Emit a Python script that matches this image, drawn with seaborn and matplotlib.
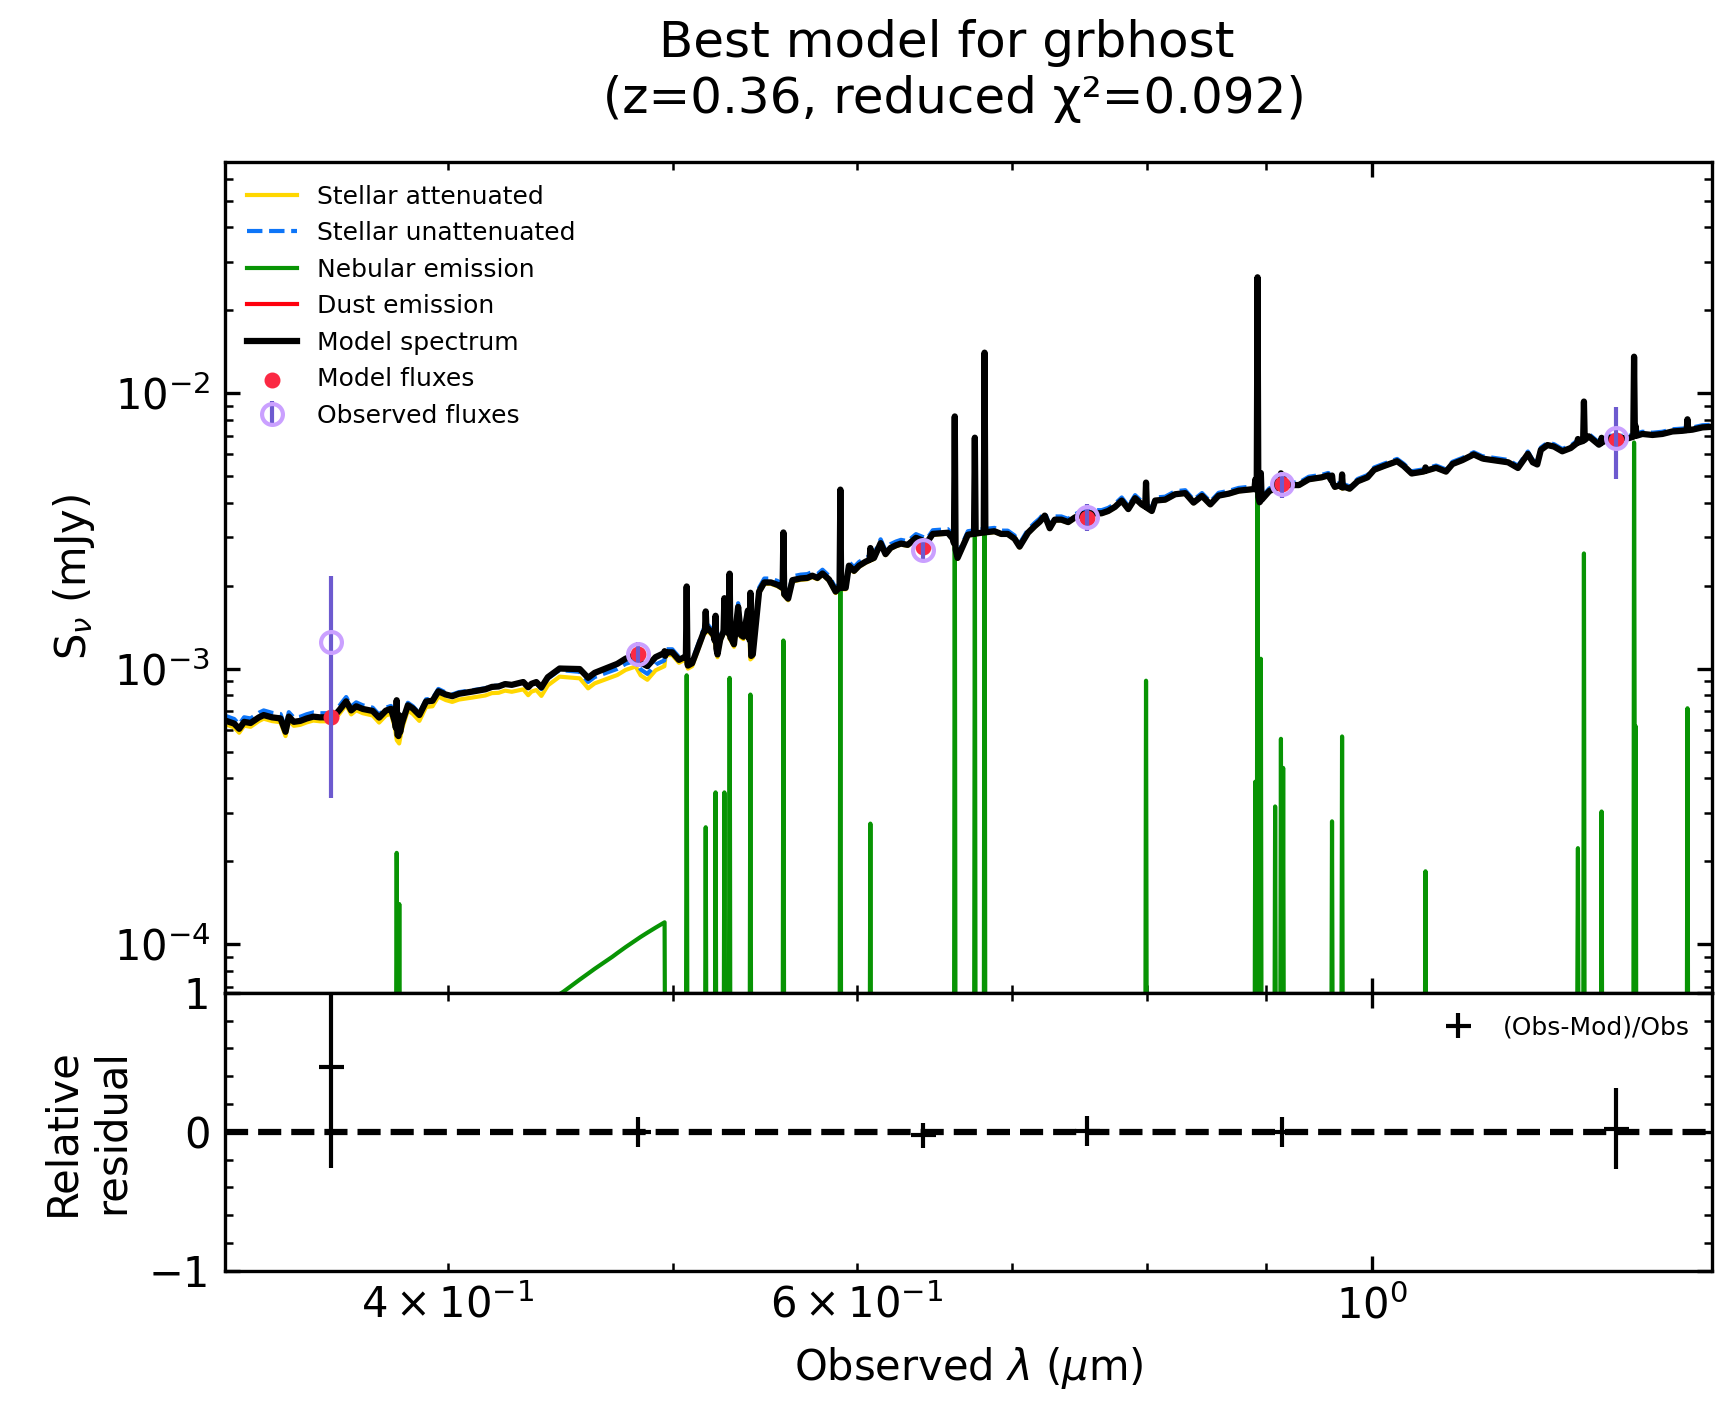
import numpy as np
import matplotlib
matplotlib.use("Agg")
import matplotlib.pyplot as plt
import seaborn as sns
from matplotlib.ticker import MultipleLocator

# ---------------- data ----------------
object_id = "grbhost"
redshift = 0.36
reduced_chi2 = 0.092

filter_names = ["u", "g", "r", "i", "z", "J"]
filters_wl = [0.3564, 0.4828, 0.6406, 0.7537, 0.9148, 1.2731]          # micron
mod_fluxes = [6.66e-4, 1.13e-3, 2.76e-3, 3.53e-3, 4.66e-3, 6.73e-3]    # mJy
obs_fluxes = [1.25e-3, 1.13e-3, 2.69e-3, 3.555e-3, 4.66e-3, 6.89e-3]   # mJy
obs_errors = [9.1e-4, 1.2e-4, 2.4e-4, 3.9e-4, 5.0e-4, 2.0e-3]          # mJy

# stellar attenuated continuum (gold curve)
stellar_wl = [
    0.3180, 0.3237, 0.3253, 0.3269, 0.3290, 0.3317, 0.3333, 0.3361, 0.3389, 0.3406,
    0.3417, 0.3434, 0.3456, 0.3478, 0.3501, 0.3524, 0.3546, 0.3570, 0.3593, 0.3617,
    0.3635, 0.3653, 0.3677, 0.3713, 0.3737, 0.3762, 0.3781, 0.3796, 0.3803, 0.3812,
    0.3822, 0.3828, 0.3845, 0.3864, 0.3889, 0.3915, 0.3940, 0.3963, 0.3992, 0.4018,
    0.4044, 0.4098, 0.4152, 0.4179, 0.4207, 0.4234, 0.4262, 0.4311, 0.4332, 0.4346,
    0.4367, 0.4389, 0.4417, 0.4446, 0.4469, 0.4559, 0.4597, 0.4627, 0.4732, 0.4771,
    0.4819, 0.4843, 0.4875, 0.4915, 0.4958, 0.4964, 0.4997, 0.5030, 0.5063, 0.5075,
    0.5096, 0.5121, 0.5155, 0.5179, 0.5205, 0.5216, 0.5226, 0.5240, 0.5256, 0.5262,
    0.5276, 0.5290, 0.5300, 0.5312, 0.5334, 0.5348, 0.5362, 0.5386, 0.5399, 0.5412,
    0.5425, 0.5446, 0.5474, 0.5510, 0.5546, 0.5574, 0.5579, 0.5605, 0.5629, 0.5675,
    0.5713, 0.5741, 0.5770, 0.5799, 0.5837, 0.5875, 0.5895, 0.5934, 0.5953, 0.5983,
    0.6013, 0.6052, 0.6103, 0.6143, 0.6173, 0.6204, 0.6237, 0.6268, 0.6310, 0.6362,
    0.6432, 0.6469, 0.6566, 0.6598, 0.6630, 0.6698, 0.6731, 0.6787, 0.6877, 0.6923,
    0.6968, 0.7015, 0.7050, 0.7109, 0.7157, 0.7192, 0.7228, 0.7264, 0.7300, 0.7348,
    0.7398, 0.7446, 0.7496, 0.7554, 0.7647, 0.7697, 0.7749, 0.7801, 0.7852, 0.7905,
    0.7957, 0.8037, 0.8064, 0.8144, 0.8225, 0.8308, 0.8377, 0.8447, 0.8517, 0.8587,
    0.8673, 0.8760, 0.8856, 0.8915, 0.8943, 0.9031, 0.9167, 0.9299, 0.9390, 0.9511,
    0.9574, 0.9636, 0.9682, 0.9705, 0.9730, 0.9778, 0.9857, 0.9953, 1.0018, 1.0116,
    1.0249, 1.0316, 1.0398, 1.0517, 1.0653, 1.0758, 1.0827, 1.0933, 1.1058, 1.1148,
    1.1293, 1.1441, 1.1553, 1.1667, 1.1724, 1.1776, 1.1818, 1.1896, 1.1973, 1.2072,
    1.2173, 1.2253, 1.2334, 1.2394, 1.2518, 1.2644, 1.2731, 1.2898, 1.3070, 1.3201,
    1.3331, 1.3464, 1.3598, 1.3734, 1.3871, 1.4050,
]
stellar_att = [
    6.45e-4, 6.12e-4, 5.85e-4, 6.21e-4, 6.15e-4, 6.45e-4, 6.58e-4, 6.45e-4, 6.39e-4, 5.69e-4,
    6.49e-4, 6.20e-4, 6.25e-4, 6.38e-4, 6.48e-4, 6.44e-4, 6.44e-4, 6.44e-4, 6.86e-4, 7.38e-4,
    6.82e-4, 7.06e-4, 6.89e-4, 6.76e-4, 6.37e-4, 6.76e-4, 6.86e-4, 6.10e-4, 5.50e-4, 5.35e-4,
    6.00e-4, 6.27e-4, 7.05e-4, 6.85e-4, 6.46e-4, 7.26e-4, 7.30e-4, 7.92e-4, 7.69e-4, 7.57e-4,
    7.72e-4, 7.85e-4, 7.99e-4, 8.15e-4, 8.17e-4, 8.32e-4, 8.24e-4, 8.41e-4, 8.01e-4, 8.25e-4,
    8.36e-4, 7.96e-4, 8.69e-4, 9.05e-4, 9.35e-4, 9.22e-4, 8.48e-4, 8.84e-4, 9.48e-4, 9.89e-4,
    1.018e-3, 9.45e-4, 9.11e-4, 9.86e-4, 1.02e-3, 1.12e-3, 1.12e-3, 1.05e-3, 1.08e-3, 1.00e-3,
    1.02e-3, 1.14e-3, 1.33e-3, 1.37e-3, 1.30e-3, 1.20e-3, 1.10e-3, 1.25e-3, 1.33e-3, 1.45e-3,
    1.37e-3, 1.28e-3, 1.25e-3, 1.20e-3, 1.65e-3, 1.30e-3, 1.28e-3, 1.60e-3, 1.08e-3, 1.10e-3,
    1.35e-3, 1.88e-3, 2.03e-3, 2.03e-3, 1.99e-3, 1.94e-3, 1.85e-3, 1.77e-3, 2.07e-3, 2.10e-3,
    2.11e-3, 2.15e-3, 2.11e-3, 2.19e-3, 2.08e-3, 1.88e-3, 1.94e-3, 1.94e-3, 2.34e-3, 2.24e-3,
    2.34e-3, 2.42e-3, 2.50e-3, 2.83e-3, 2.58e-3, 2.72e-3, 2.78e-3, 2.82e-3, 2.79e-3, 2.96e-3,
    2.85e-3, 3.06e-3, 3.09e-3, 2.94e-3, 2.50e-3, 3.04e-3, 3.06e-3, 3.09e-3, 3.13e-3, 3.06e-3,
    3.06e-3, 2.94e-3, 2.75e-3, 3.09e-3, 3.27e-3, 3.39e-3, 3.57e-3, 3.21e-3, 3.45e-3, 3.45e-3,
    3.38e-3, 3.51e-3, 3.61e-3, 3.64e-3, 3.64e-3, 3.71e-3, 3.84e-3, 4.05e-3, 3.77e-3, 4.13e-3,
    3.92e-3, 3.71e-3, 4.05e-3, 4.08e-3, 4.27e-3, 4.31e-3, 3.98e-3, 4.21e-3, 3.92e-3, 4.22e-3,
    4.29e-3, 4.40e-3, 4.44e-3, 4.47e-3, 3.99e-3, 4.39e-3, 4.61e-3, 4.61e-3, 4.84e-3, 4.92e-3,
    5.00e-3, 4.54e-3, 4.60e-3, 4.50e-3, 4.54e-3, 4.47e-3, 4.76e-3, 4.92e-3, 5.24e-3, 5.41e-3,
    5.63e-3, 5.41e-3, 5.08e-3, 5.16e-3, 5.33e-3, 5.16e-3, 5.50e-3, 5.68e-3, 5.96e-3, 5.77e-3,
    5.68e-3, 5.59e-3, 5.33e-3, 6.00e-3, 5.59e-3, 5.49e-3, 6.20e-3, 6.46e-3, 6.38e-3, 6.13e-3,
    6.30e-3, 6.58e-3, 6.70e-3, 6.95e-3, 6.48e-3, 6.85e-3, 6.85e-3, 6.85e-3, 7.09e-3, 7.03e-3,
    7.09e-3, 7.24e-3, 7.28e-3, 7.35e-3, 7.49e-3, 7.54e-3,
]

# ratio unattenuated / attenuated stellar emission
atten_wl = [0.30, 0.40, 0.49, 0.70, 1.00, 1.45]
atten_ratio = [1.075, 1.065, 1.05, 1.035, 1.025, 1.02]

# nebular continuum
neb_wl = [0.300, 0.360, 0.420, 0.4487, 0.4582, 0.4709, 0.4840, 0.4959, 0.4962,
          0.700, 1.115, 1.117, 1.450]
neb_cont = [1.8e-5, 2.2e-5, 4.4e-5, 6.73e-5, 7.66e-5, 9.0e-5, 1.059e-4, 1.20e-4, 2.6e-5,
            2.2e-5, 3.0e-5, 1.8e-5, 1.8e-5]

# nebular emission lines (observed wavelength, peak flux density above continuum)
line_wl = [0.38026, 0.38124, 0.50688, 0.51653, 0.52160, 0.52618, 0.52890, 0.53992,
           0.55787, 0.59027, 0.60809, 0.66114, 0.67442, 0.68095, 0.79913, 0.89053,
           0.89250, 0.89543, 0.90821, 0.91344, 0.91545, 0.96088, 0.97050, 1.05414,
           1.22606, 1.23338, 1.25514, 1.29622, 1.29826, 1.36666]
line_peak = [1.85e-4, 1.1e-4, 9.2e-4, 2.4e-4, 3.3e-4, 3.3e-4, 9.0e-4, 7.8e-4,
             1.24e-3, 2.5e-3, 2.5e-4, 5.45e-3, 3.8e-3, 1.09e-2, 8.8e-4, 3.63e-4,
             2.2e-2, 1.06e-3, 2.9e-4, 5.3e-4, 4.1e-4, 2.52e-4, 5.4e-4, 1.55e-4,
             2.05e-4, 2.6e-3, 2.85e-4, 6.6e-3, 6.0e-4, 7.0e-4]

# dust emission (far below the plotted range in the optical)
dust_wl = [0.30, 0.60, 1.00, 1.45]
dust_flux = [2e-9, 5e-9, 3e-8, 1.5e-7]

# ---------------- build spectra ----------------
line_halfwidth = 0.0008  # fractional
lw_arr = np.asarray(line_wl)
line_x = np.ravel(np.column_stack([lw_arr * (1 - line_halfwidth), lw_arr, lw_arr * (1 + line_halfwidth)]))
line_y = np.ravel(np.column_stack([np.zeros_like(lw_arr), np.asarray(line_peak), np.zeros_like(lw_arr)]))

grid = np.unique(np.concatenate([stellar_wl, neb_wl, line_x, dust_wl]))
grid = grid[(grid >= 0.30) & (grid <= 1.45)]

att = np.interp(grid, stellar_wl, stellar_att)
unatt = att * np.interp(grid, atten_wl, atten_ratio)
neb = np.interp(grid, neb_wl, neb_cont) + np.interp(grid, line_x, line_y, left=0.0, right=0.0)
dust = np.interp(grid, dust_wl, dust_flux)
model = att + neb + dust

fw = np.asarray(filters_wl)
mf = np.asarray(mod_fluxes)
of = np.asarray(obs_fluxes)
oe = np.asarray(obs_errors)
resid = (of - mf) / of
resid_err = oe / of

xmin, xmax = 0.9 * fw.min(), 1.1 * fw.max()
ymin = min(of.min(), mf.min()) / 10.0
ymax = max(of.max(), mf.max()) * 10.0

# ---------------- style ----------------
sns.set_style("ticks")
plt.rcParams.update({
    "font.family": ["DejaVu Sans"],
    "mathtext.fontset": "dejavusans",
    "axes.edgecolor": "black", "axes.labelcolor": "black", "text.color": "black",
    "xtick.color": "black", "ytick.color": "black",
    "axes.linewidth": 0.8,
    "xtick.major.size": 3.5, "ytick.major.size": 3.5,
    "xtick.minor.size": 2.0, "ytick.minor.size": 2.0,
    "xtick.major.width": 0.8, "ytick.major.width": 0.8,
    "xtick.minor.width": 0.6, "ytick.minor.width": 0.6,
    "font.size": 10, "axes.labelsize": 10,
    "xtick.labelsize": 10, "ytick.labelsize": 10,
    "lines.solid_capstyle": "projecting",
})

fig = plt.figure(figsize=(1732 / 300, 1404 / 300), dpi=300)
ax1 = fig.add_axes([0.1299, 0.2929, 0.8586, 0.5916])
ax2 = fig.add_axes([0.1299, 0.0949, 0.8586, 0.1980], sharex=ax1)

ax1.set_xscale("log")
ax1.set_yscale("log")

sns.lineplot(x=grid, y=att, ax=ax1, color="gold", lw=1.0, label="Stellar attenuated",
             estimator=None, sort=False)
sns.lineplot(x=grid, y=unatt, ax=ax1, color="xkcd:deep sky blue", lw=1.0, linestyle="--",
             label="Stellar unattenuated", estimator=None, sort=False)
sns.lineplot(x=grid, y=neb, ax=ax1, color="xkcd:true green", lw=1.0, label="Nebular emission",
             estimator=None, sort=False)
sns.lineplot(x=grid, y=dust, ax=ax1, color="xkcd:bright red", lw=1.0, label="Dust emission",
             estimator=None, sort=False)
sns.lineplot(x=grid, y=model, ax=ax1, color="k", lw=1.5, label="Model spectrum",
             estimator=None, sort=False)

sns.scatterplot(x=fw, y=mf, ax=ax1, marker="o", color="xkcd:strawberry", s=8,
                edgecolor="xkcd:strawberry", linewidth=1.0, zorder=3, label="Model fluxes")
ax1.errorbar(fw, of, yerr=oe, ls="", marker="o", label="Observed fluxes",
             markerfacecolor="None", markersize=5, markeredgecolor="xkcd:pastel purple",
             color="xkcd:light indigo", capsize=0.0, zorder=3, lw=1)

ax1.set_xlim(xmin, xmax)
ax1.set_ylim(ymin, ymax)
ax1.set_ylabel(r"S$_\nu$ (mJy)")
ax1.set_xlabel("")
ax1.tick_params(axis="both", which="both", direction="in", top=True, right=True,
                labelbottom=False)
ax1.legend(fontsize=6, loc="upper left", frameon=False)

ax2.errorbar(fw, resid, yerr=resid_err, marker="_", label="(Obs-Mod)/Obs", color="k",
             capsize=0.0, ls="None", lw=1)
sns.lineplot(x=[xmin, xmax], y=[0.0, 0.0], ax=ax2, color="k", linestyle="--", lw=1.5,
             estimator=None, sort=False)
ax2.set_xlim(xmin, xmax)
ax2.set_ylim(-1.0, 1.0)
ax2.yaxis.set_major_locator(MultipleLocator(1.0))
ax2.yaxis.set_minor_locator(MultipleLocator(0.2))
ax2.tick_params(axis="both", which="both", direction="in", top=True, right=True)
ax2.set_xlabel(r"Observed $\lambda$ ($\mu$m)")
ax2.set_ylabel("Relative\nresidual")
ax2.legend(fontsize=6, loc="upper right", frameon=False)

fig.suptitle(f"Best model for {object_id}\n (z={redshift:.2f}, reduced χ²={reduced_chi2:.3f})",
             x=0.5465, y=0.9865, va="top", fontsize=12)

fig.savefig("out.png", dpi=300)
